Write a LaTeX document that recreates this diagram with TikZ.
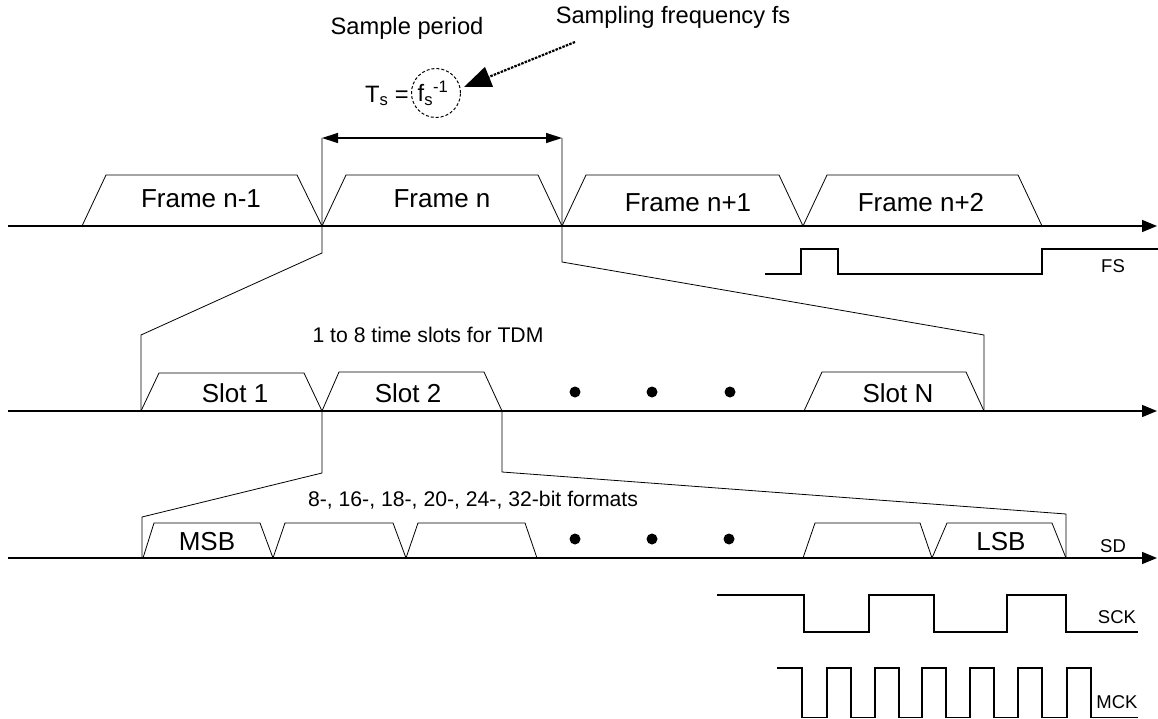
\documentclass[tikz,border=0pt]{standalone}
\usepackage{fontspec}
\setmainfont{Liberation Sans}
\usetikzlibrary{arrows.meta}
\tikzset{
  axisline/.style={line width=1.5pt,-{Triangle[length=15pt,width=12pt]}},
  trapline/.style={line width=0.8pt,line join=miter},
  expline/.style={line width=0.8pt},
  sigline/.style={line width=1.6pt},
  biglbl/.style={font=\fontsize{26}{30}\selectfont,inner sep=0pt},
  midlbl/.style={font=\fontsize{23.7}{28}\selectfont,inner sep=0pt},
  smalllbl/.style={font=\fontsize{21.2}{25}\selectfont,inner sep=0pt},
  siglbl/.style={font=\fontsize{18.5}{22}\selectfont,inner sep=0pt},
  dotmark/.style={circle,fill=black,inner sep=0pt,minimum size=11pt}
}
\newcommand\trapz[6]{\draw[trapline] (#1,#6) -- (#2,#5) -- (#3,#5) -- (#4,#6);}
\begin{document}
\begin{tikzpicture}[x=1pt,y=-1pt]
\useasboundingbox (0,0) rectangle (1158,719);

% ---- top annotations
\node[midlbl] (sp) at (407,28) {Sample period};
\node[midlbl] (sf) at (673,17) {Sampling frequency fs};
\node[midlbl,anchor=east] (ts) at (409,96) {T\textsubscript{s} =};
\node[midlbl,draw,circle,line width=1pt,dash pattern=on 3pt off 2pt,minimum size=49pt,inner sep=0pt] (circ) at (436,93) {\hspace*{-6pt}f\textsubscript{s}\textsuperscript{-1}};
\coordinate (arrS) at (575,42);
\draw[line width=2.2pt,dash pattern=on 2.5pt off 1.2pt,-{Triangle[length=27pt,width=21pt]}] (arrS) -- (464,87);

% ---- period arrow
\coordinate (pL) at (322,138);
\coordinate (pR) at (562,138);
\draw[line width=1.3pt,{Triangle[length=16pt,width=10pt]}-{Triangle[length=16pt,width=10pt]}] (pL) -- (pR);

% ---- axes
\draw[axisline] (8,226) -- (1157,226);
\draw[axisline] (8,411) -- (1157,411);
\draw[axisline] (8,558) -- (1157,558);

% ---- frames
\trapz{82}{106}{297}{322}{175}{226}
\trapz{322}{346}{538}{562}{175}{226}
\trapz{562}{586}{779}{803}{175}{226}
\trapz{803}{827}{1018}{1042}{175}{226}
\node[biglbl] (f1) at (201,199) {Frame n-1};
\node[biglbl] (f2) at (442,199) {Frame n};
\node[biglbl] (f3) at (688,203) {Frame n+1};
\node[biglbl] (f4) at (921,203) {Frame n+2};

% ---- FS
\draw[sigline] (765,274) -- (801,274) -- (801,249) -- (838,249) -- (838,274) -- (1042,274) -- (1042,249) -- (1158,249);
\node[siglbl] (fs) at (1113,266) {FS};

% ---- expansion frame -> slots
\coordinate (a1) at (322,253);
\coordinate (a2) at (141,335);
\coordinate (a3) at (141,411);
\coordinate (b1) at (562,262);
\coordinate (b2) at (984,335);
\coordinate (b3) at (984,411);
\draw[expline] (pL) -- (a1) -- (a2) -- (a3);
\draw[expline] (pR) -- (b1) -- (b2) -- (b3);
\node[smalllbl] (tdm) at (428,335) {1 to 8 time slots for TDM};

% ---- slots
\trapz{141}{159}{304}{322}{373}{411}
\trapz{322}{339}{484}{502}{372}{411}
\trapz{804}{822}{966}{984}{372}{411}
\node[biglbl] (s1) at (235,393) {Slot 1};
\node[biglbl] (s2) at (408,393) {Slot 2};
\node[biglbl] (sn) at (898,393) {Slot N};
\node[dotmark] (d1) at (575,392) {};
\node[dotmark] (d2) at (652,392) {};
\node[dotmark] (d3) at (730,392) {};

% ---- expansion slot -> bits
\coordinate (c0) at (322,411);
\coordinate (c1) at (322,473);
\coordinate (c2) at (142,517);
\coordinate (c3) at (142,558);
\coordinate (e0) at (502,411);
\coordinate (e1) at (502,472);
\coordinate (e2) at (1066,514);
\coordinate (e3) at (1066,558);
\draw[expline] (c0) -- (c1) -- (c2) -- (c3);
\draw[expline] (e0) -- (e1) -- (e2) -- (e3);
\node[smalllbl] (fmt) at (473,500) {8-, 16-, 18-, 20-, 24-, 32-bit formats};

% ---- bits
\trapz{143}{154}{260}{273}{523}{558}
\trapz{273}{285}{393}{406}{523}{558}
\trapz{406}{418}{525}{537}{523}{558}
\trapz{803}{815}{920}{932}{523}{558}
\trapz{932}{947}{1052}{1066}{523}{558}
\node[biglbl] (msb) at (207,542) {MSB};
\node[biglbl] (lsb) at (1001,542) {LSB};
\node[dotmark] (g1) at (575,539) {};
\node[dotmark] (g2) at (652,539) {};
\node[dotmark] (g3) at (729,539) {};
\node[siglbl] (sd) at (1113,546) {SD};

% ---- SCK
\draw[sigline] (717,595) -- (804,595) -- (804,632) -- (869,632) -- (869,595) -- (934,595) -- (934,632) -- (1007,632) -- (1007,595) -- (1066,595) -- (1066,632) -- (1138,632);
\node[siglbl] (sck) at (1117,617) {SCK};

% ---- MCK
\draw[sigline] (777,668) -- (802,668) -- (802,717.5)
  -- (827,717.5) -- (827,668) -- (851,668) -- (851,717.5)
  -- (875,717.5) -- (875,668) -- (899,668) -- (899,717.5)
  -- (922,717.5) -- (922,668) -- (946,668) -- (946,717.5)
  -- (970,717.5) -- (970,668) -- (994,668) -- (994,717.5)
  -- (1018,717.5) -- (1018,668) -- (1042,668) -- (1042,717.5)
  -- (1067,717.5) -- (1067,668) -- (1091,668) -- (1091,717.5) -- (1138,717.5);
\node[siglbl] (mck) at (1117,702) {MCK};
\end{tikzpicture}
\end{document}
